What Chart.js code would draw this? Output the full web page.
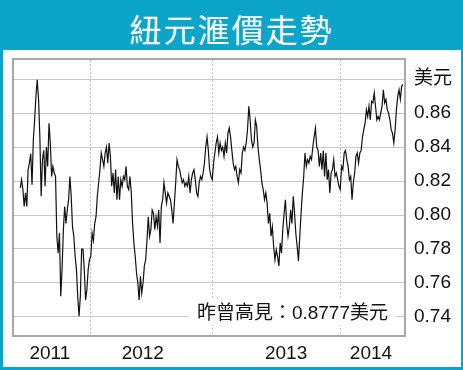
<!DOCTYPE html>
<html>
<head>
<meta charset="utf-8">
<script src="https://cdn.jsdelivr.net/npm/chart.js@4.4.1/dist/chart.umd.min.js"></script>
<style>
  html, body { margin: 0; padding: 0; }
  body { width: 463px; height: 370px; background: #0ba5c9; position: relative; overflow: hidden; }
  #title {
    position: absolute; left: 0; top: 0; width: 463px; height: 50px;
    color: #fff; text-align: center; line-height: 50px; padding-top: 3px; box-sizing: border-box;
    font-family: "Noto Sans CJK TC", "Noto Sans CJK SC", sans-serif; font-size: 32px; letter-spacing: 2px;
  }
  #panel { position: absolute; left: 3px; top: 50px; width: 458px; height: 317px; background: #fff; }
  #chart { display: block; }
</style>
</head>
<body>
<div id="title">紐元滙價走勢</div>
<div id="panel"><canvas id="chart" width="458" height="317"></canvas></div>
<script>
// 紐元兌美元 — 讀圖估值，依時間先後分段
const part1 = [0.816, 0.8208, 0.815, 0.805, 0.813, 0.805, 0.8267, 0.8306, 0.836, 0.8178,
  0.8443, 0.856, 0.870, 0.8796, 0.868, 0.846, 0.811, 0.8326, 0.838, 0.817,
  0.840, 0.8286, 0.854, 0.8424, 0.8227, 0.8286, 0.8247, 0.8227, 0.7875, 0.7777,
  0.7894, 0.7522, 0.768, 0.7914, 0.805, 0.795, 0.803, 0.809, 0.8227, 0.811,
  0.793, 0.7875, 0.7757, 0.768, 0.752, 0.7404, 0.752, 0.780, 0.780, 0.768,
  0.750, 0.756, 0.768, 0.7737, 0.7757, 0.7894];
const part2 = [0.785, 0.795, 0.799, 0.811, 0.819, 0.8267, 0.8365, 0.8326, 0.8286, 0.8365,
  0.840, 0.8306, 0.8424, 0.8345, 0.8169, 0.8247, 0.813, 0.8267, 0.809, 0.8227,
  0.809, 0.8208, 0.8169, 0.8227, 0.8208, 0.8286, 0.8169, 0.815, 0.8227, 0.813,
  0.795, 0.7835, 0.7757, 0.766, 0.760, 0.750, 0.764, 0.754, 0.760, 0.770,
  0.7737, 0.785, 0.799, 0.7875, 0.7914, 0.803, 0.801, 0.7914, 0.799, 0.7934,
  0.803, 0.7835, 0.805, 0.809, 0.819, 0.813, 0.807, 0.813, 0.811];
const part3 = [0.809, 0.803, 0.795, 0.807, 0.819, 0.8326, 0.8286, 0.8267, 0.8227, 0.819,
  0.8208, 0.8169, 0.819, 0.8169, 0.8227, 0.813, 0.8208, 0.8247, 0.8267, 0.8208,
  0.813, 0.811, 0.819, 0.8227, 0.8208, 0.8247, 0.8306, 0.840, 0.846, 0.838,
  0.8267, 0.8227, 0.8208, 0.8306, 0.8365, 0.8424, 0.846, 0.8365, 0.8424, 0.838,
  0.840, 0.8345, 0.8424, 0.8365, 0.848, 0.8512, 0.846, 0.838, 0.8306, 0.8267,
  0.8286, 0.8227, 0.819, 0.8267, 0.8247, 0.8365, 0.840, 0.838, 0.8424];
const part4 = [0.8502, 0.864, 0.856, 0.8443, 0.840, 0.8424, 0.856, 0.8522, 0.840, 0.8326,
  0.8267, 0.819, 0.815, 0.809, 0.813, 0.807, 0.795, 0.801, 0.7875, 0.793,
  0.7816, 0.7737, 0.7796, 0.7757, 0.770, 0.7835, 0.7777, 0.7914, 0.801, 0.809,
  0.795, 0.7875, 0.793, 0.803, 0.795, 0.811, 0.801, 0.789, 0.7816, 0.773,
  0.7875, 0.801, 0.813, 0.8227, 0.8365, 0.8286, 0.8326, 0.8306, 0.8345, 0.8326,
  0.840, 0.846, 0.8512, 0.840, 0.838, 0.8286, 0.8365, 0.8267, 0.838, 0.8227, 0.8365];
const part5 = [0.8208, 0.8267, 0.813, 0.8247, 0.8267, 0.8326, 0.8227, 0.8247, 0.8208, 0.8169,
  0.815, 0.8286, 0.8267, 0.8365, 0.838, 0.8326, 0.8286, 0.8208, 0.8227, 0.809,
  0.819, 0.8247, 0.8345, 0.8365, 0.8306, 0.8365, 0.838, 0.846, 0.8502, 0.854,
  0.862, 0.858, 0.864, 0.856, 0.8669, 0.866, 0.8718, 0.864, 0.856, 0.858,
  0.856, 0.860, 0.864, 0.8737, 0.866, 0.868, 0.862, 0.860, 0.856, 0.8502,
  0.848, 0.8424, 0.8502, 0.862, 0.870, 0.8737, 0.868, 0.8757, 0.8767];

// 年份標籤（位置以資料序號計）及直向格線
const yearLabels = ['2011', '2012', '2013', '2014'];
const yearAt = [22.7, 93.8, 203.5, 268.5];
const vGridAt = [54, 147.5, 245.5];
const yTicks = [0.74, 0.76, 0.78, 0.80, 0.82, 0.84, 0.86, 0.88];
const unitLabel = '美元';
const note = '昨曾高見：0.8777美元';
const noteLevel = 0.7424;

const rates = [].concat(part1, part2, part3, part4, part5);
const points = rates.map((v, i) => ({ x: i, y: v }));

const FONT = "'Liberation Sans', Arial, 'Noto Sans CJK TC', sans-serif";
Chart.defaults.font.family = FONT;
Chart.defaults.color = '#111';

// 外框 + 註解（白底蓋住格線）
const framePlugin = {
  id: 'frame',
  afterDatasetsDraw(chart) {
    const { ctx, chartArea: a, scales } = chart;
    ctx.save();
    const ny = scales.y.getPixelForValue(noteLevel);
    ctx.font = '19px ' + FONT;
    const w = ctx.measureText(note).width;
    ctx.fillStyle = '#fff';
    ctx.fillRect(a.right - 16 - w - 8, ny - 13, w + 16, 25);
    ctx.fillStyle = '#111';
    ctx.textAlign = 'right';
    ctx.textBaseline = 'middle';
    ctx.fillText(note, a.right - 16, ny + 1);
    ctx.strokeStyle = '#a8a8a8';
    ctx.lineWidth = 2;
    ctx.strokeRect(a.left - 1, a.top - 1, a.right - a.left + 2, a.bottom - a.top + 2);
    ctx.restore();
  }
};

new Chart(document.getElementById('chart'), {
  type: 'line',
  data: {
    datasets: [{
      data: points,
      borderColor: '#111',
      borderWidth: 1.2,
      pointRadius: 0,
      tension: 0,
      fill: false
    }]
  },
  options: {
    responsive: false,
    devicePixelRatio: 1,
    animation: false,
    layout: { padding: { left: 11, top: 10, right: 0, bottom: 0 } },
    plugins: { legend: { display: false }, tooltip: { enabled: false } },
    scales: {
      x: {
        type: 'linear',
        min: -4.8,
        max: rates.length - 1 + 0.8,
        afterBuildTicks: s => {
          s.ticks = vGridAt.concat(yearAt).sort((a, b) => a - b).map(v => ({ value: v }));
        },
        afterFit: s => { s.height = 32; s.paddingLeft = 0; s.paddingRight = 0; },
        grid: {
          color: c => (c.tick && vGridAt.includes(c.tick.value)) ? '#c4c4c4' : 'rgba(0,0,0,0)',
          drawTicks: false,
          lineWidth: 1
        },
        border: { display: false, dash: [2, 2] },
        ticks: {
          autoSkip: false, maxRotation: 0, minRotation: 0, padding: 7,
          font: { size: 19 },
          callback: v => {
            const k = yearAt.indexOf(v);
            return k >= 0 ? yearLabels[k] : '';
          }
        }
      },
      y: {
        position: 'right',
        min: 0.7294,
        max: 0.8912,
        afterBuildTicks: s => { s.ticks = yTicks.map(v => ({ value: v })); },
        afterFit: s => { s.width = 57; s.paddingTop = 0; s.paddingBottom = 0; },
        grid: { color: '#c8c8c8', drawTicks: false, lineWidth: 1 },
        border: { display: false },
        ticks: {
          padding: 10, font: { size: 19 },
          callback: v => (v === 0.88 ? unitLabel : v.toFixed(2))
        }
      }
    }
  },
  plugins: [framePlugin]
});
</script>
</body>
</html>
